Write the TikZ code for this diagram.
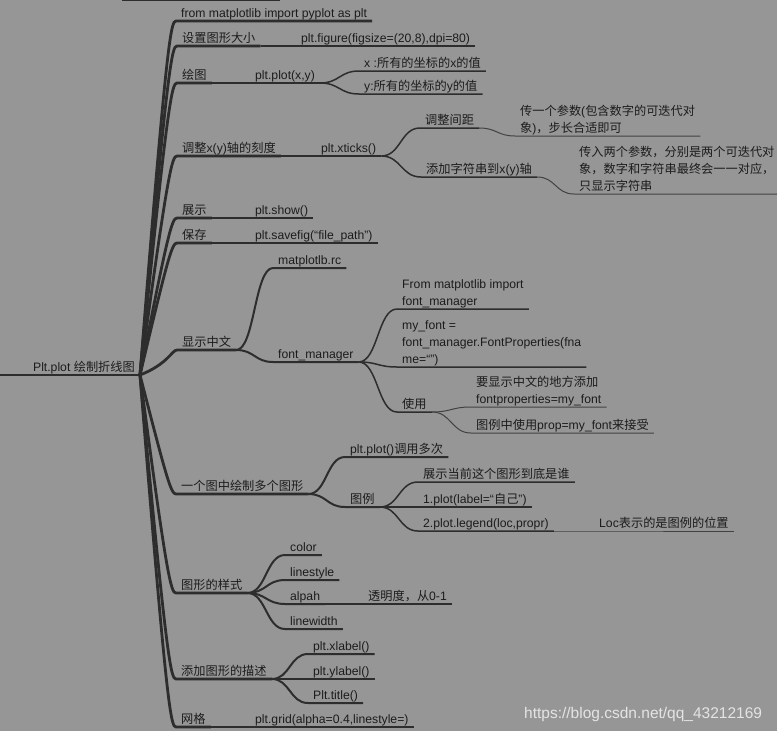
\documentclass[tikz,border=0pt]{standalone}
\usepackage{fontspec}
\setmainfont{Liberation Sans}
\newfontfamily\cjkfont{Noto Sans CJK SC}
\newcommand\zh[1]{{\cjkfont #1}}
\newcommand\ustrut{\rule[-3pt]{0pt}{3pt}}
\usetikzlibrary{calc}
\definecolor{bgcol}{RGB}{150,150,150}
\definecolor{linecol}{RGB}{45,45,45}
\definecolor{txtcol}{RGB}{28,28,28}
\definecolor{wmcol}{RGB}{228,228,228}
\tikzset{ txt/.style = { anchor = south west % topic text
        , inner xsep = 5pt
        , inner ysep = 0.5pt
        , align = left
        , text = txtcol
        , font = \fontsize{12.2}{17}\selectfont
        , execute at end node = \ustrut
        }
        , trunk/.style = { to path = { let \p1 = (\tikztostart), \p2 = (\tikztotarget), \n1 = {sign(\y1-\y2)} in
            .. controls ({\x2-9pt},{\y2+\n1*14pt}) and ({\x2-5pt},\y2) .. (\tikztotarget) }
        }
        , branch/.style = { to path = { let \p1 = (\tikztostart), \p2 = (\tikztotarget) in
            .. controls ({(\x1+\x2)/2},\y1) and ({(\x1+\x2)/2},\y2) .. (\tikztotarget) }
        }
        }

\begin{document}
\begin{tikzpicture}[x=1pt, y=-1pt,
        l1/.style={draw=linecol, line width=2.8pt},
        l2/.style={draw=linecol, line width=2pt},
        l3/.style={draw=linecol, line width=1.5pt},
        l4/.style={draw=linecol!80!bgcol, line width=1pt},
        wm/.style={anchor=base west, inner sep=0pt, text=wmcol, font=\fontsize{15.5}{18}\selectfont}]
        \fill [bgcol] (0,0) rectangle (777,731);
        \useasboundingbox (0,0) rectangle (777,731);

        \node [txt, anchor=south east] (root) at (140,375) {Plt.plot \zh{绘制折线图}};
        \coordinate (rootend) at (0,375);
        \coordinate (topa) at (122,0);
        \coordinate (topb) at (280,0);

        \node [txt] (n1) at (176,21) {from matplotlib import pyplot as plt};
        \node [txt] (n2) at (177,46) {\zh{设置图形大小}};
        \node [txt] (n3) at (177,83) {\zh{绘图}};
        \node [txt] (n4) at (177,156) {\zh{调整}x(y)\zh{轴的刻度}};
        \node [txt] (n5) at (177,218) {\zh{展示}};
        \node [txt] (n6) at (177,243) {\zh{保存}};
        \node [txt] (n7) at (177,350) {\zh{显示中文}};
        \node [txt] (n8) at (176,494) {\zh{一个图中绘制多个图形}};
        \node [txt] (n9) at (176,593) {\zh{图形的样式}};
        \node [txt] (n10) at (176,679) {\zh{添加图形的描述}};
        \node [txt] (n11) at (176,727) {\zh{网格}};

        \node [txt] (figsize) at (296,46) {plt.figure(figsize=(20,8),dpi=80)};
        \node [txt] (plotxy) at (250,83) {plt.plot(x,y)};
        \node [txt] (xticks) at (316,156) {plt.xticks()};
        \node [txt] (show) at (250,218) {plt.show()};
        \node [txt] (savefig) at (250,243) {plt.savefig(“file\_path”)};
        \node [txt] (rc) at (273,268) {matplotlb.rc};
        \node [txt] (fontmgr) at (273,362) {font\_manager};
        \node [txt] (plotmulti) at (345,457) {plt.plot()\zh{调用多次}};
        \node [txt] (legend) at (345,507) {\zh{图例}};
        \node [txt] (color) at (285,555) {color};
        \node [txt] (linestyle) at (285,580) {linestyle};
        \node [txt] (alpah) at (285,604) {alpah};
        \node [txt] (linewidth) at (285,629) {linewidth};
        \node [txt] (xlabel) at (308,654) {plt.xlabel()};
        \node [txt] (ylabel) at (308,679) {plt.ylabel()};
        \node [txt] (title) at (308,703) {Plt.title()};
        \node [txt] (grid) at (250,727) {plt.grid(alpha=0.4,linestyle=)};

        \node [txt] (xval) at (359,71) {x :\zh{所有的坐标的}x\zh{的值}};
        \node [txt] (yval) at (359,94) {y:\zh{所有的坐标的}y\zh{的值}};
        \node [txt] (spacing) at (420,128) {\zh{调整间距}};
        \node [txt] (addstr) at (421,177) {\zh{添加字符串到}x(y)\zh{轴}};
        \node [txt] (fromimp) at (397,309) {From matplotlib import\\font\_manager};
        \node [txt] (myfont) at (397,367) {my\_font =\\font\_manager.FontProperties(fna\\me=“”)};
        \node [txt] (use) at (397,412) {\zh{使用}};
        \node [txt] (showwho) at (418,482) {\zh{展示当前这个图形到底是谁}};
        \node [txt] (label1) at (418,507) {1.plot(label=“\zh{自己}”)};
        \node [txt] (legend2) at (418,531) {2.plot.legend(loc,propr)};
        \node [txt] (alphadesc) at (363,604) {\zh{透明度，从}0-1};

        \node [txt] (passone) at (515,136) {\zh{传一个参数}(\zh{包含数字的可迭代对}\\\zh{象})\zh{，步长合适即可}};
        \node [txt] (passtwo) at (574,194) {\zh{传入两个参数，分别是两个可迭代对}\\\zh{象，数字和字符串最终会一一对应，}\\\zh{只显示字符串}};
        \node [txt] (addprop) at (471,407) {\zh{要显示中文的地方添加}\\fontproperties=my\_font};
        \node [txt] (legendprop) at (471,433) {\zh{图例中使用}prop=my\_font\zh{来接受}};
        \node [txt] (locdesc) at (594,531) {Loc\zh{表示的是图例的位置}};

        \node [wm] (wmark) at (524,718) {https://blog.csdn.net/qq\_43212169};

        \draw [l2] (topa) -- (topb);
        \draw [l1] (rootend) -- (root.south east);
        \foreach \i in {1,...,11}
            \draw [l1] (root.south east) to[trunk] (n\i.south west) -- (n\i.south east);
        \foreach \a/\b in {n2/figsize, n3/plotxy, n4/xticks, n5/show, n6/savefig, n7/rc, n7/fontmgr,
                n8/plotmulti, n8/legend, n9/color, n9/linestyle, n9/alpah, n9/linewidth,
                n10/xlabel, n10/ylabel, n10/title, n11/grid}
            \draw [l2] (\a.south east) to[branch] (\b.south west) -- (\b.south east);
        \foreach \a/\b in {plotxy/xval, plotxy/yval, xticks/spacing, xticks/addstr, fontmgr/fromimp,
                fontmgr/myfont, fontmgr/use, legend/showwho, legend/label1, legend/legend2, alpah/alphadesc}
            \draw [l3] (\a.south east) to[branch] (\b.south west) -- (\b.south east);
        \foreach \a/\b in {spacing/passone, addstr/passtwo, use/addprop, use/legendprop, legend2/locdesc}
            \draw [l4] (\a.south east) to[branch] (\b.south west) -- (\b.south east);
\end{tikzpicture}
\end{document}
